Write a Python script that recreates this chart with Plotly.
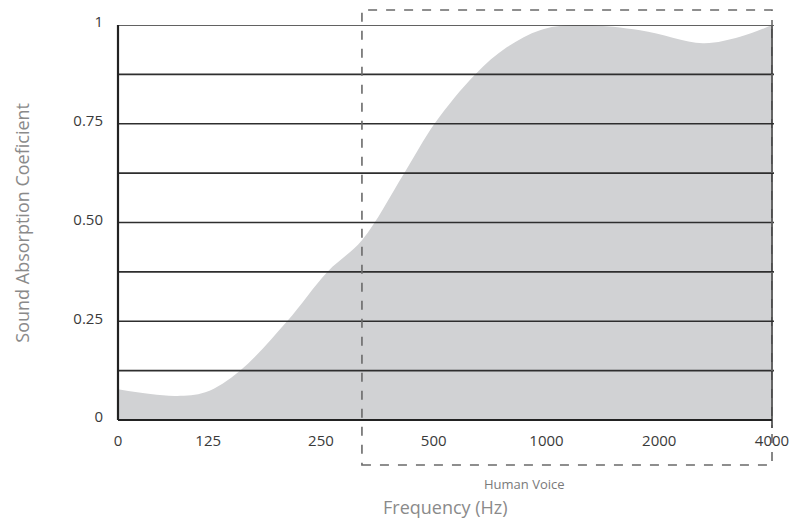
import math
import plotly.graph_objects as go

# ---- data ----
x_tick_labels = ["0", "125", "250", "500", "1000", "2000", "4000"]
x_tick_freqs = [0, 125, 250, 500, 1000, 2000, 4000]
y_tick_values = [0, 0.125, 0.25, 0.375, 0.5, 0.625, 0.75, 0.875, 1]
y_tick_labels = ["0", "", "0.25", "", "0.50", "", "0.75", "", "1"]

curve_freq = [0, 45, 82, 121, 152, 203, 260, 322, 417, 504, 645, 785,
              961, 1178, 1778, 2617, 3286, 4000]
curve_coef = [0.078, 0.066, 0.061, 0.07, 0.125, 0.25, 0.375, 0.456, 0.625,
              0.752, 0.875, 0.944, 0.987, 1.0, 0.987, 0.954, 0.97, 1.0]


# axis scale: octaves above 125 Hz, with the "0" label placed 0.8 octave-widths left
def freq_to_pos(f):
    if f >= 125:
        return math.log2(f / 125.0)
    return -0.8 * (1 - f / 125.0)


cx = [freq_to_pos(f) for f in curve_freq]
tx = [freq_to_pos(f) for f in x_tick_freqs]

fig = go.Figure()
fig.add_trace(go.Scatter(
    x=cx, y=curve_coef, mode="lines", fill="tozeroy",
    line=dict(shape="spline", smoothing=1.0, width=0, color="#d1d2d4"),
    fillcolor="#d1d2d4", hoverinfo="skip", showlegend=False,
))

grid_color = "#2e2e2e"
for v in y_tick_values[1:]:
    fig.add_shape(type="line", xref="paper", yref="y", x0=0, x1=1.003, y0=v, y1=v,
                  line=dict(color=grid_color, width=1.6), layer="above")

# right frame line
fig.add_shape(type="line", xref="paper", yref="paper", x0=1, x1=1, y0=-0.02, y1=1,
              line=dict(color=grid_color, width=1.6), layer="above")

# Human voice dashed box
fig.add_shape(type="rect", xref="paper", yref="paper",
              x0=0.373, x1=1.0, y0=-0.114, y1=1.038,
              line=dict(color="#6a6a6a", width=1.6, dash="dash"), layer="above")

font_family = "Open Sans, Noto Sans, sans-serif"

fig.add_annotation(text="Human Voice", xref="paper", yref="paper",
                   x=0.686, y=-0.163, showarrow=False, yanchor="middle",
                   font=dict(size=13, color="#7a7a7a", family=font_family))
fig.add_annotation(text="Frequency (Hz)", xref="paper", yref="paper",
                   x=0.5, y=-0.22, showarrow=False, yanchor="middle",
                   font=dict(size=18, color="#8a8a8a", family=font_family))
fig.add_annotation(text="Sound Absorption Coeficient", xref="paper", yref="paper",
                   x=-0.148, y=0.5, showarrow=False, textangle=-90,
                   xanchor="center", yanchor="middle",
                   font=dict(size=18, color="#8a8a8a", family=font_family))

fig.update_layout(
    width=794, height=513,
    margin=dict(l=110, r=30, t=17, b=101, autoexpand=False),
    paper_bgcolor="white", plot_bgcolor="white",
    font=dict(family=font_family, color="#333333"),
    xaxis=dict(
        range=[-0.8, 5], tickvals=tx, ticktext=x_tick_labels,
        showgrid=False, zeroline=False, showline=False, automargin=False,
        tickfont=dict(size=15, color="#3a3a3a"), ticks="", ticklabelstandoff=10,
    ),
    yaxis=dict(
        range=[0, 1], tickvals=y_tick_values, ticktext=y_tick_labels,
        showgrid=False, zeroline=False, showline=False, automargin=False,
        tickfont=dict(size=15, color="#3a3a3a"), ticks="", ticklabelstandoff=14,
        ticklabelshift=-3,
    ),
)

# axis lines on top
fig.add_shape(type="line", xref="paper", yref="paper", x0=0, x1=1, y0=0, y1=0,
              line=dict(color="#222222", width=2.2), layer="above")
fig.add_shape(type="line", xref="paper", yref="paper", x0=0, x1=0, y0=0, y1=1,
              line=dict(color="#222222", width=2.2), layer="above")

fig.write_html("out.html")
